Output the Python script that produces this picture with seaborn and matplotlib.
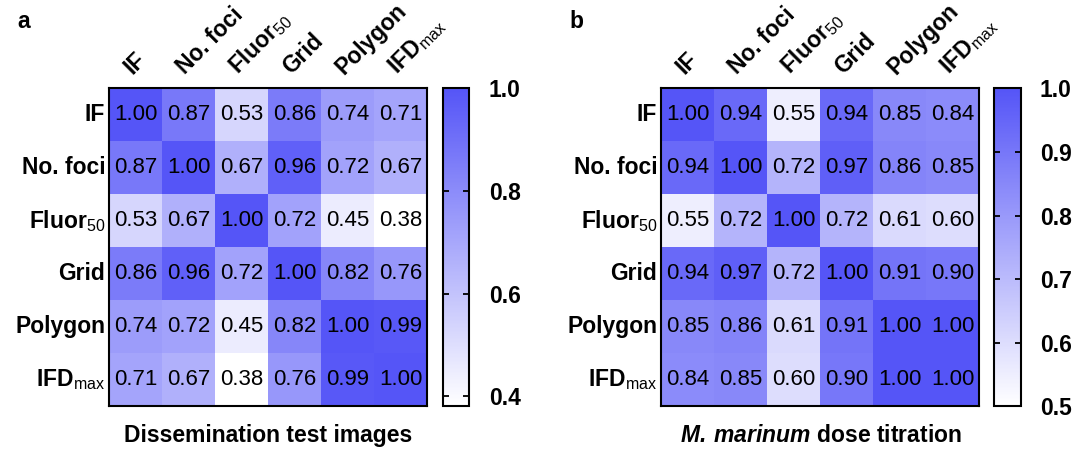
import numpy as np
import pandas as pd
import seaborn as sns
import matplotlib.pyplot as plt
from matplotlib.colors import LinearSegmentedColormap

# data
labels = ['IF', 'No. foci', r'Fluor$_{\mathrm{50}}$', 'Grid', 'Polygon', r'IFD$_{\mathrm{max}}$']

corr_a = [
    [1.00, 0.87, 0.53, 0.86, 0.74, 0.71],
    [0.87, 1.00, 0.67, 0.96, 0.72, 0.67],
    [0.53, 0.67, 1.00, 0.72, 0.45, 0.38],
    [0.86, 0.96, 0.72, 1.00, 0.82, 0.76],
    [0.74, 0.72, 0.45, 0.82, 1.00, 0.99],
    [0.71, 0.67, 0.38, 0.76, 0.99, 1.00],
]
corr_b = [
    [1.00, 0.94, 0.55, 0.94, 0.85, 0.84],
    [0.94, 1.00, 0.72, 0.97, 0.86, 0.85],
    [0.55, 0.72, 1.00, 0.72, 0.61, 0.60],
    [0.94, 0.97, 0.72, 1.00, 0.91, 0.90],
    [0.85, 0.86, 0.61, 0.91, 1.00, 1.00],
    [0.84, 0.85, 0.60, 0.90, 1.00, 1.00],
]
ticks_a = [0.4, 0.6, 0.8, 1.0]
ticks_b = [0.5, 0.6, 0.7, 0.8, 0.9, 1.0]

sns.set_style('white')
plt.rcParams['font.family'] = ['Liberation Sans', 'DejaVu Sans']
plt.rcParams['mathtext.fontset'] = 'custom'
plt.rcParams['mathtext.rm'] = 'Liberation Sans'
plt.rcParams['mathtext.bfit'] = 'Liberation Sans:italic:bold'
plt.rcParams['text.color'] = 'black'
plt.rcParams['xtick.color'] = 'black'
plt.rcParams['ytick.color'] = 'black'
plt.rcParams['axes.labelcolor'] = 'black'

cmap = LinearSegmentedColormap.from_list('wb', ['#FFFFFF', '#5555F7'])

fig = plt.figure(figsize=(10.83, 4.5), dpi=100)


def draw_panel(data, left, cbar_left, vmin, ticks, title, letter, letter_x):
    ax = fig.add_axes([left, 0.0967, 0.2936, 0.7067])
    cax = fig.add_axes([cbar_left, 0.0967, 0.0245, 0.7067])
    df = pd.DataFrame(data, index=labels, columns=labels)
    sns.heatmap(df, ax=ax, cbar_ax=cax, cmap=cmap, vmin=vmin, vmax=1.0,
                annot=True, fmt='.2f', annot_kws={'size': 16, 'color': 'black'})
    for s in ax.spines.values():
        s.set_visible(True)
        s.set_linewidth(1.5)
        s.set_color('black')
    ax.xaxis.tick_top()
    ax.tick_params(length=0)
    ax.tick_params(axis='x', pad=7)
    ax.tick_params(axis='y', pad=3)
    ax.set_xticklabels(labels, rotation=45, ha='left', rotation_mode='anchor',
                       fontsize=16.5, fontweight='bold', color='black')
    ax.set_yticklabels(labels, rotation=0, fontsize=16.5, fontweight='bold',
                       color='black')
    ax.set_xlabel('')
    ax.set_ylabel('')

    cbar = ax.collections[0].colorbar
    cbar.set_ticks(ticks)
    cbar.set_ticklabels([f'{t:.1f}' for t in ticks])
    cbar.outline.set_visible(True)
    cbar.outline.set_linewidth(1.5)
    cbar.outline.set_edgecolor('black')
    cax.set_axisbelow(False)
    cax.yaxis.set_ticks_position('both')
    cax.tick_params(direction='in', left=True, right=True, labelleft=False,
                    labelright=True, length=4, width=1.3, color='black',
                    pad=14, labelsize=16.5, labelcolor='black')
    for t in cax.get_yticklabels():
        t.set_fontweight('bold')

    fig.text(left + 0.2936 / 2, 0.033, title, ha='center', va='center',
             fontsize=16.5, fontweight='bold', color='black')
    fig.text(letter_x, 0.938, letter, ha='left', va='baseline',
             fontsize=16.5, fontweight='bold', color='black')


draw_panel(corr_a, 0.1011, 0.409, 0.38, ticks_a,
           'Dissemination test images', 'a', 0.016)
draw_panel(corr_b, 0.6108, 0.9178, 0.5, ticks_b,
           r'$\mathbfit{M.\,marinum}$ dose titration', 'b', 0.526)

fig.savefig('out.png', dpi=100)
